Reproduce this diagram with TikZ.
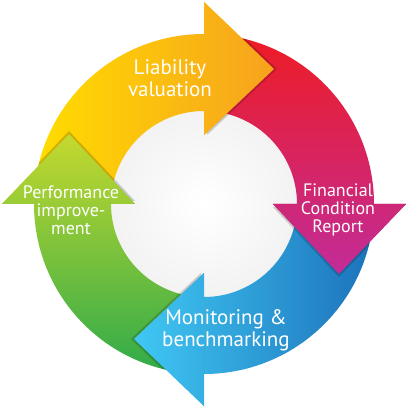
\documentclass[tikz,border=0pt]{standalone}
\usepackage{fontspec}
\setsansfont{PT Sans}
\usetikzlibrary{calc}
\definecolor{lvyellow} {HTML}{FFDD00}
\definecolor{lvorange} {HTML}{F7A21D}
\definecolor{fcred}    {HTML}{EE1C24}
\definecolor{fcmagenta}{HTML}{C22C98}
\definecolor{mbblue}   {HTML}{1C72BA}
\definecolor{mbcyan}   {HTML}{40C8F4}
\definecolor{pigreen}  {HTML}{2FAA4A}
\definecolor{pilime}   {HTML}{C5D92E}

\tikzset{
  yellowarrow/.style={left color=lvyellow, right color=lvorange},
  redarrow/.style={top color=fcred, bottom color=fcmagenta},
  bluearrow/.style={left color=mbcyan, right color=mbblue},
  greenarrow/.style={top color=pilime, bottom color=pigreen},
  ringtext/.style={text=white, align=center, inner sep=0pt},
  bigtext/.style={ringtext, font=\sffamily\fontsize{21}{22}\selectfont},
  smalltext/.style={ringtext, font=\sffamily\fontsize{18}{18}\selectfont}
}
% ring sector of one arrow, and its head, for a head at angle #1
\newcommand\cyclebody[1]{(#1+90:170) arc[start angle=#1+90, end angle=#1, radius=170]
  -- (#1:93) arc[start angle=#1, end angle=#1+90, radius=93] -- cycle}
\newcommand\cyclehead[1]{(#1:69) -- (#1:202) -- ($(#1:135)+(#1-90:70)$) -- cycle}

\begin{document}
\begin{tikzpicture}[x=1pt, y=1pt]
  \useasboundingbox (-204,-208) rectangle (208,204);
  % centre
  \shade[inner color=white, outer color=black!5] (0,0) circle[radius=96];
  % arrows
  \foreach \a/\s in {90/yellowarrow, 0/redarrow, -90/bluearrow, 180/greenarrow}
    \shade[\s] \cyclebody{\a} \cyclehead{\a};
  % shadows of heads
  \begin{scope}
    \clip (0,0) circle[radius=170];
    \foreach \a in {90, 0, -90, 180}
      \fill[black, opacity=.18, shift={(\a-90:3)}] \cyclehead{\a};
  \end{scope}
  % heads again, on top of the next arrow
  \foreach \a/\s in {90/yellowarrow, 0/redarrow, -90/bluearrow, 180/greenarrow}{
    \begin{scope}
      \clip \cyclehead{\a};
      \shade[\s] \cyclebody{\a} \cyclehead{\a};
    \end{scope}
  }
  \node[bigtext] (liab) at (-34,126) {Liability\\valuation};
  \node[smalltext] (fcr) at (134,-6) {Financial\\Condition\\Report};
  \node[bigtext] (monit) at (22,-126) {Monitoring~\&\\benchmarking};
  \node[smalltext] (perf) at (-133,-6) {Performance\\improve-\\ment};
\end{tikzpicture}
\end{document}
